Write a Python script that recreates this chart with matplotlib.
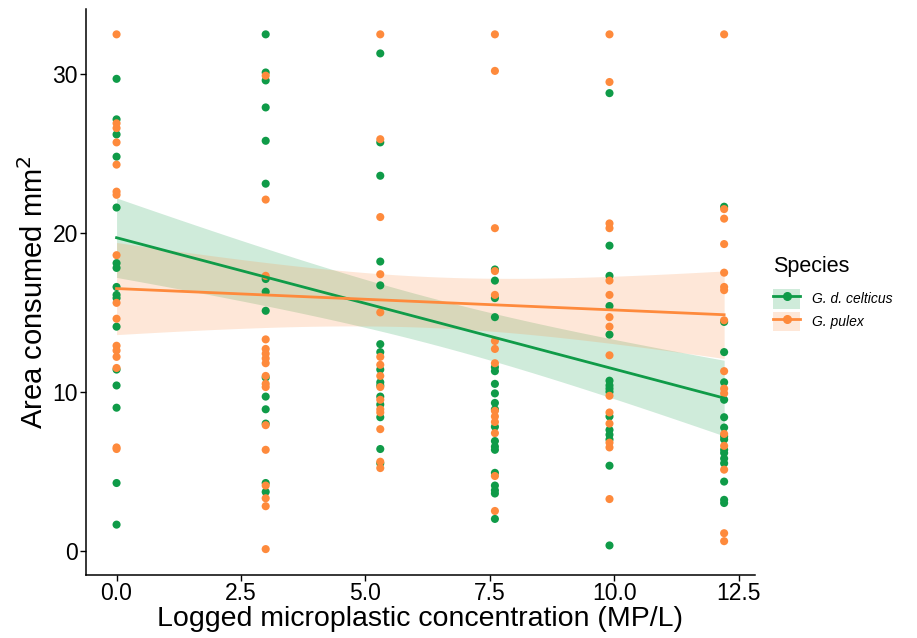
import numpy as np
import matplotlib
matplotlib.use("Agg")
import matplotlib.pyplot as plt
from matplotlib.lines import Line2D
from matplotlib.patches import Patch

plt.rcParams['font.family'] = ['Liberation Sans', 'DejaVu Sans']

# logged concentrations (MP/L)
conc = [0.0, 2.996, 5.298, 7.601, 9.903, 12.206]

# area consumed, G. d. celticus, one list per concentration
celticus = [
    [29.7, 27.15, 26.2, 24.8, 21.6, 18.1, 17.8, 16.6, 16.1, 15.9, 14.1, 11.4, 10.4, 9.0, 4.26, 1.64],
    [32.5, 30.1, 29.6, 27.9, 25.8, 23.1, 17.1, 16.3, 15.1, 10.9, 9.7, 8.9, 8.0, 4.26, 3.7],
    [31.3, 25.7, 23.6, 18.2, 16.7, 13.0, 12.5, 11.4, 10.6, 10.4, 9.7, 9.2, 8.4, 6.4, 5.5],
    [17.7, 17.0, 15.9, 14.7, 11.55, 11.3, 10.5, 9.9, 9.3, 8.9, 7.8, 6.9, 6.55, 6.35, 4.9, 4.1, 3.8, 3.6, 2.0],
    [28.8, 19.2, 17.3, 15.4, 13.6, 10.7, 10.4, 10.2, 10.0, 8.45, 7.6, 7.3, 7.0, 5.35, 0.33],
    [21.65, 14.4, 12.5, 10.6, 9.5, 8.4, 7.75, 7.2, 7.0, 6.35, 6.15, 5.8, 5.5, 4.35, 3.2, 3.0],
]

# area consumed, G. pulex, one list per concentration
pulex = [
    [32.5, 26.9, 26.6, 25.7, 24.3, 22.6, 22.4, 18.6, 15.6, 14.6, 12.9, 12.6, 12.2, 11.5, 6.5, 6.4],
    [29.9, 22.1, 17.3, 13.3, 12.7, 12.4, 12.1, 11.8, 11.0, 10.5, 10.3, 7.9, 6.35, 4.1, 3.3, 2.8, 0.1],
    [32.5, 25.9, 21.0, 17.4, 15.0, 12.2, 11.7, 11.0, 10.3, 9.5, 8.9, 8.7, 7.65, 5.6, 5.2],
    [32.5, 30.2, 20.3, 17.6, 16.1, 13.2, 12.7, 11.8, 8.8, 8.45, 8.1, 7.4, 4.7, 2.5],
    [32.5, 29.5, 20.6, 20.3, 17.0, 16.1, 14.7, 14.1, 12.3, 9.75, 8.7, 8.0, 6.8, 6.5, 3.25],
    [32.5, 21.5, 20.9, 19.3, 17.5, 16.6, 16.4, 14.5, 11.3, 10.2, 9.9, 7.35, 6.6, 5.1, 1.1, 0.6],
]

species = ["G. d. celticus", "G. pulex"]
colours = ["#0f9b48", "#fe8a3c"]

# linear fits: intercept, slope,
# 95% CI half-width at the mean concentration and at concentration 0
fit_intercept = [19.7, 16.5]
fit_slope = [-0.827, -0.135]
ci_centre = [1.45, 1.6]
ci_edge = [2.5, 2.9]

x_ticks = [0.0, 2.5, 5.0, 7.5, 10.0, 12.5]
y_ticks = [0, 10, 20, 30]


def flatten(groups):
    xs, ys = [], []
    for c, vals in zip(conc, groups):
        xs += [c] * len(vals)
        ys += vals
    return np.array(xs), np.array(ys)


fig = plt.figure(figsize=(9.17, 6.38), dpi=100)
ax = fig.add_axes([0.094, 0.099, 0.729, 0.887])

for groups, col in zip([celticus, pulex], colours):
    x, y = flatten(groups)
    ax.scatter(x, y, s=34, color=col, edgecolors="none", zorder=3)

grid = np.linspace(min(conc), max(conc), 80)
xm = np.mean(conc)
for i, col in enumerate(colours):
    fit = fit_intercept[i] + fit_slope[i] * grid
    u = (grid - xm) / (min(conc) - xm)
    half = np.sqrt(ci_centre[i] ** 2 + (ci_edge[i] ** 2 - ci_centre[i] ** 2) * u ** 2)
    ax.fill_between(grid, fit - half, fit + half, color=col, alpha=0.2,
                    linewidth=0, zorder=1)
    ax.plot(grid, fit, color=col, lw=2, zorder=4)

ax.set_xlim(-0.61, 12.82)
ax.set_ylim(-1.52, 34.1)
ax.set_xticks(x_ticks)
ax.set_xticklabels([f"{t:.1f}" for t in x_ticks])
ax.set_yticks(y_ticks)
ax.tick_params(labelsize=16.5, length=4, width=1, colors="black", direction="out",
               pad=2)
ax.tick_params(axis="x", pad=1)
for side in ["top", "right"]:
    ax.spines[side].set_visible(False)
for side in ["left", "bottom"]:
    ax.spines[side].set_linewidth(1.1)

ax.set_xlabel("Logged microplastic concentration (MP/L)", fontsize=20.5)
ax.set_ylabel("Area consumed mm$^2$", fontsize=21)
ax.xaxis.set_label_coords(0.5, -0.055)
ax.yaxis.set_label_coords(-0.056, 0.5)

handles = [
    (Patch(facecolor=c, alpha=0.2, edgecolor="none"),
     Line2D([], [], color=c, lw=2, marker="o", markersize=5.5))
    for c in colours
]
leg = fig.legend(handles, species, title="Species", loc="center left",
                 bbox_to_anchor=(0.829, 0.54), frameon=False,
                 prop={"style": "italic", "size": 10}, title_fontsize=15.5,
                 handlelength=2.0, handleheight=1.8, labelspacing=0.2,
                 handletextpad=0.8)
leg._legend_box.align = "left"
leg._legend_box.sep = 9

fig.savefig("out.png", dpi=100)
